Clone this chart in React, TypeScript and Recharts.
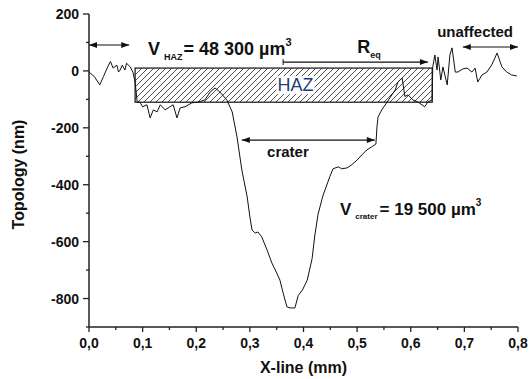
import { LineChart, Line, XAxis, YAxis, ReferenceArea, ReferenceLine, ReferenceDot } from 'recharts';

const xValues = [
  0.0, 0.01, 0.02, 0.027, 0.035, 0.04, 0.045, 0.052, 0.055, 0.058, 0.062, 0.067, 0.07, 0.077, 0.082, 0.086,
  0.09, 0.095, 0.1, 0.108, 0.114, 0.12, 0.127, 0.133, 0.142, 0.151, 0.157, 0.164, 0.17, 0.179, 0.192, 0.203,
  0.216, 0.226, 0.235, 0.244, 0.257, 0.267, 0.276, 0.285, 0.295, 0.3, 0.304, 0.31, 0.315, 0.322, 0.332, 0.341,
  0.35, 0.356, 0.362, 0.369, 0.375, 0.384, 0.39, 0.398, 0.407, 0.416, 0.421, 0.427, 0.436, 0.449, 0.455, 0.465,
  0.471, 0.481, 0.49, 0.5, 0.509, 0.518, 0.527, 0.535, 0.537, 0.539, 0.546, 0.555, 0.561, 0.571, 0.576, 0.584,
  0.589, 0.595, 0.604, 0.613, 0.626, 0.632, 0.64, 0.641, 0.645, 0.649, 0.651, 0.656, 0.66, 0.668, 0.673, 0.677,
  0.683, 0.688, 0.697, 0.705, 0.714, 0.72, 0.725, 0.733, 0.742, 0.751, 0.761, 0.77, 0.779, 0.788, 0.798,
];

const topology = [
  -4, -20, -49, -20, 15, 33, 10, 20, -4, 3, 20, 3, 27, 14, -5, -40,
  -110, -110, -126, -119, -165, -137, -144, -119, -137, -126, -119, -165, -130, -126, -112, -110,
  -102, -74, -60, -74, -102, -144, -232, -348, -443, -513, -559, -570, -566, -583, -629, -675,
  -710, -735, -780, -829, -833, -833, -790, -770, -735, -660, -580, -505, -440, -372, -344, -337,
  -344, -341, -330, -313, -295, -278, -267, -257, -197, -162, -137, -112, -95, -67, -39, -25,
  -90, -84, -102, -109, -126, -109, -102, 14, 56, 3, 49, -32, 14, -49, 56, 81,
  -4, -4, 7, 10, -4, 10, -39, -14, -4, 21, 63, 14, -4, -14, -18,
];

const xTicks = [0, 0.05, 0.1, 0.15, 0.2, 0.25, 0.3, 0.35, 0.4, 0.45, 0.5, 0.55, 0.6, 0.65, 0.7, 0.75, 0.8];
const yTicks = [200, 100, 0, -100, -200, -300, -400, -500, -600, -700, -800, -900];

const data = xValues.map((x, i) => ({ x, y: topology[i] }));

const FONT = '"Liberation Sans", Arial, sans-serif';

function XTick({ x, y, payload }: any) {
  const v = payload.value;
  const major = Math.round(v * 100) % 10 === 0;
  return (
    <g>
      <line x1={x} y1={y} x2={x} y2={y + (major ? 5 : 3)} stroke="#222" strokeWidth={1.3} />
      {major && (
        <text x={x} y={y + 21} textAnchor="middle" fontFamily={FONT} fontSize={14} fontWeight="bold" fill="#111">
          {v.toFixed(1).replace('.', ',')}
        </text>
      )}
    </g>
  );
}

function YTick({ x, y, payload }: any) {
  const v = payload.value;
  const major = v % 200 === 0;
  return (
    <g>
      <line x1={x} y1={y} x2={x - (major ? 6 : 3)} y2={y} stroke="#222" strokeWidth={1.3} />
      {major && (
        <text x={x - 10} y={y + 5} textAnchor="end" fontFamily={FONT} fontSize={14} fontWeight="bold" fill="#111">
          {v}
        </text>
      )}
    </g>
  );
}

function arrowHead(tx: number, ty: number, dir: number) {
  return <polygon points={`${tx},${ty} ${tx - dir * 8},${ty - 3} ${tx - dir * 8},${ty + 3}`} fill="#111" />;
}

function makeArrow(startHead: boolean, endHead: boolean, startBar = false) {
  return (p: any) => {
    const { x1, y1, x2, y2 } = p;
    return (
      <g>
        <line x1={x1} y1={y1} x2={x2} y2={y2} stroke="#111" strokeWidth={1.2} />
        {startHead && arrowHead(x1, y1, -1)}
        {endHead && arrowHead(x2, y2, 1)}
        {startBar && <line x1={x1} y1={y1 - 3} x2={x1} y2={y1 + 3} stroke="#111" strokeWidth={1} />}
      </g>
    );
  };
}

function HatchBox(p: any) {
  const { x, y, width, height } = p;
  return (
    <g>
      <defs>
        <pattern id="hatch" width="6" height="6" patternUnits="userSpaceOnUse">
          <path d="M-1,1 l2,-2 M0,6 l6,-6 M5,7 l2,-2" stroke="#222" strokeWidth={0.8} />
        </pattern>
      </defs>
      <rect x={x} y={y} width={width} height={height} fill="url(#hatch)" stroke="#222" strokeWidth={1.3} />
    </g>
  );
}

const boldText = { fontFamily: FONT, fontWeight: 'bold' as const, fill: '#111' };

export default function App() {
  return (
    <div style={{ position: 'absolute', left: 0, top: 0, background: '#fff' }}>
      <LineChart width={530} height={379} data={data} margin={{ top: 14, right: 12, left: 0, bottom: 0 }}>
        <XAxis
          type="number"
          dataKey="x"
          domain={[0, 0.8]}
          ticks={xTicks}
          interval={0}
          tickLine={false}
          tickSize={0}
          tickMargin={0}
          tick={<XTick />}
          axisLine={{ stroke: '#222', strokeWidth: 1.5 }}
          height={52}
          label={{
            content: ({ viewBox }: any) => (
              <text x={viewBox.x + viewBox.width / 2} y={viewBox.y + 46} textAnchor="middle" fontSize={16} {...boldText}>
                X-line (mm)
              </text>
            ),
          }}
        />
        <YAxis
          type="number"
          domain={[-900, 200]}
          ticks={yTicks}
          interval={0}
          tickLine={false}
          tickSize={0}
          tickMargin={0}
          tick={<YTick />}
          axisLine={{ stroke: '#222', strokeWidth: 1.5 }}
          width={89}
          label={{
            content: ({ viewBox }: any) => {
              const cx = 24;
              const cy = viewBox.y + viewBox.height / 2 + 4;
              return (
                <text x={cx} y={cy} transform={`rotate(-90 ${cx} ${cy})`} textAnchor="middle" fontSize={16} {...boldText}>
                  Topology (nm)
                </text>
              );
            },
          }}
        />
        <ReferenceArea x1={0.086} x2={0.64} y1={-110} y2={10} shape={HatchBox} ifOverflow="visible" />
        <Line type="linear" dataKey="y" stroke="#111" strokeWidth={1} dot={false} isAnimationActive={false} />

        <ReferenceLine segment={[{ x: 0, y: 91 }, { x: 0.075, y: 91 }]} shape={makeArrow(true, true)} ifOverflow="visible" />
        <ReferenceLine segment={[{ x: 0.362, y: 31 }, { x: 0.632, y: 31 }]} shape={makeArrow(false, true, true)} ifOverflow="visible" />
        <ReferenceLine segment={[{ x: 0.697, y: 84 }, { x: 0.8, y: 84 }]} shape={makeArrow(true, true)} ifOverflow="visible" />
        <ReferenceLine segment={[{ x: 0.285, y: -243 }, { x: 0.533, y: -243 }]} shape={makeArrow(true, true)} ifOverflow="visible" />

        <ReferenceDot
          x={0.11}
          y={56}
          r={0}
          ifOverflow="visible"
          shape={(p: any) => (
            <text x={p.cx} y={p.cy} fontSize={18} {...boldText}>
              <tspan>V</tspan>
              <tspan fontSize={9} dx={4} dy={5}>HAZ</tspan>
              <tspan fontSize={18} dx={1} dy={-5}>= 48 300 µm</tspan>
              <tspan fontSize={11} dy={-9}>3</tspan>
            </text>
          )}
        />
        <ReferenceDot
          x={0.5}
          y={63}
          r={0}
          ifOverflow="visible"
          shape={(p: any) => (
            <text x={p.cx} y={p.cy} fontSize={18} {...boldText}>
              <tspan>R</tspan>
              <tspan fontSize={9} dy={5}>eq</tspan>
            </text>
          )}
        />
        <ReferenceDot
          x={0.72}
          y={119}
          r={0}
          ifOverflow="visible"
          shape={(p: any) => (
            <text x={p.cx} y={p.cy} fontSize={15} textAnchor="middle" {...boldText}>
              unaffected
            </text>
          )}
        />
        <ReferenceDot
          x={0.385}
          y={-71}
          r={0}
          ifOverflow="visible"
          shape={(p: any) => (
            <g>
              <rect x={p.cx - 19} y={p.cy - 15} width={38} height={18} fill="#fff" />
              <text x={p.cx} y={p.cy} fontSize={18} textAnchor="middle" fontFamily={FONT} fill="#1f3d7a">
                HAZ
              </text>
            </g>
          )}
        />
        <ReferenceDot
          x={0.371}
          y={-302}
          r={0}
          ifOverflow="visible"
          shape={(p: any) => (
            <text x={p.cx} y={p.cy} fontSize={15} textAnchor="middle" {...boldText}>
              crater
            </text>
          )}
        />
        <ReferenceDot
          x={0.468}
          y={-506}
          r={0}
          ifOverflow="visible"
          shape={(p: any) => (
            <text x={p.cx} y={p.cy} fontSize={17} {...boldText}>
              <tspan>V</tspan>
              <tspan fontSize={8} dx={4} dy={4}>crater</tspan>
              <tspan fontSize={17} dx={2} dy={-4}>= 19 500 µm</tspan>
              <tspan fontSize={10} dy={-9}>3</tspan>
            </text>
          )}
        />
      </LineChart>
    </div>
  );
}
